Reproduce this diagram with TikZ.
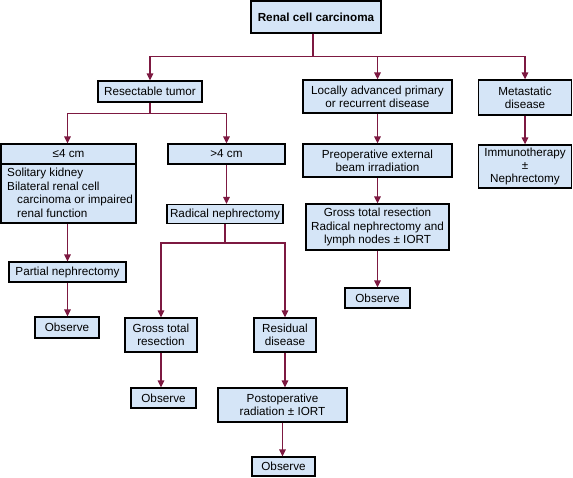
\documentclass[tikz,border=0pt]{standalone}
\usepackage{fontspec}
\setmainfont{Liberation Sans}
\usetikzlibrary{arrows.meta}
\definecolor{boxfill}{HTML}{D5E5F7}
\definecolor{conncol}{HTML}{7D1941}
\begin{document}
\begin{tikzpicture}[x=1pt,y=-1pt,
  bx/.style={draw=black,fill=boxfill,line width=1.3pt,inner sep=0pt,align=center,
    font=\fontsize{11.7}{13.3}\selectfont},
  conn/.style={draw=conncol,line width=1.4pt},
  arr/.style={conn,-{Triangle[length=7pt,width=6.5pt]}},
  txt/.style={inner sep=0pt,anchor=west,font=\fontsize{11.7}{13.3}\selectfont}]
\useasboundingbox (0,0) rectangle (573,477);
% boxes
\node[bx,minimum width=130,minimum height=32,font=\fontsize{11.7}{13.3}\selectfont\bfseries] (top) at (316,17) {Renal cell carcinoma};
\node[bx,minimum width=104,minimum height=21] (res) at (150,91.5) {Resectable tumor};
\node[bx,minimum width=149,minimum height=33] (loc) at (377.5,96.5) {Locally advanced primary\\or recurrent disease};
\node[bx,minimum width=93,minimum height=35] (met) at (525,97.5) {Metastatic\\disease};
\node[bx,minimum width=135,minimum height=79] (le4) at (68.5,183.5) {};
\draw[line width=1.3pt] (le4.west |- 0,164) -- (le4.east |- 0,164);
\node[inner sep=0pt,font=\fontsize{11.7}{13.3}\selectfont] (le4t) at (68.5,154) {≤4 cm};
\node[txt] (l1) at (7,173) {Solitary kidney};
\node[txt] (l2) at (7,186.5) {Bilateral renal cell};
\node[txt] (l3) at (17,200) {carcinoma or impaired};
\node[txt] (l4) at (17,213.5) {renal function};
\node[bx,minimum width=117,minimum height=20] (gt4) at (226.5,154) {>4 cm};
\node[bx,minimum width=116,minimum height=19] (rad) at (225,214) {Radical nephrectomy};
\node[bx,minimum width=117,minimum height=20] (part) at (67.5,272) {Partial nephrectomy};
\node[bx,minimum width=64,minimum height=21] (obs1) at (67,327.5) {Observe};
\node[bx,minimum width=72,minimum height=34] (gross1) at (161,335) {Gross total\\resection};
\node[bx,minimum width=62,minimum height=34] (resid) at (285,335) {Residual\\disease};
\node[bx,minimum width=65,minimum height=20] (obs2) at (163.5,398) {Observe};
\node[bx,minimum width=129,minimum height=34] (post) at (282.5,405) {Postoperative\\radiation ± IORT};
\node[bx,minimum width=63,minimum height=19] (obs3) at (283.5,466.5) {Observe};
\node[bx,minimum width=149,minimum height=33] (pre) at (377.5,160.5) {Preoperative external\\beam irradiation};
\node[bx,minimum width=143,minimum height=46] (gross2) at (377.5,227) {Gross total resection\\Radical nephrectomy and\\lymph nodes ± IORT};
\node[bx,minimum width=65,minimum height=20] (obs4) at (377.5,298) {Observe};
\node[bx,minimum width=93,minimum height=43] (imm) at (525,166.5) {Immunotherapy\\±\\Nephrectomy};
% connectors
\draw[arr] ([xshift=-3pt]top.south) -- ++(0,23) -| (res.north);
\draw[arr] ([xshift=-3pt]top.south) -- ++(0,23) -| (loc.north);
\draw[arr] ([xshift=-3pt]top.south) -- ++(0,23) -| (met.north);
\draw[arr] (res.south) -- ++(0,11) -| (part.north |- le4.north);
\draw[arr] (res.south) -- ++(0,11) -| (gt4.north);
\draw[arr] (part.north |- le4.south) -- (part.north);
\draw[arr] (part.south) -- (obs1.north -| part.south);
\draw[arr] (gt4.south) -- (gt4.south |- rad.north);
\draw[arr] (rad.south) -- ++(0,19) -| (gross1.north);
\draw[arr] (rad.south) -- ++(0,19) -| (resid.north);
\draw[arr] (gross1.south) -- (gross1.south |- obs2.north);
\draw[arr] (resid.south) -- (resid.south |- post.north);
\draw[arr] (post.south) -- (post.south |- obs3.north);
\draw[arr] (loc.south) -- (pre.north);
\draw[arr] (pre.south) -- (gross2.north);
\draw[arr] (gross2.south) -- (obs4.north);
\draw[arr] (met.south) -- (imm.north);
\end{tikzpicture}
\end{document}
